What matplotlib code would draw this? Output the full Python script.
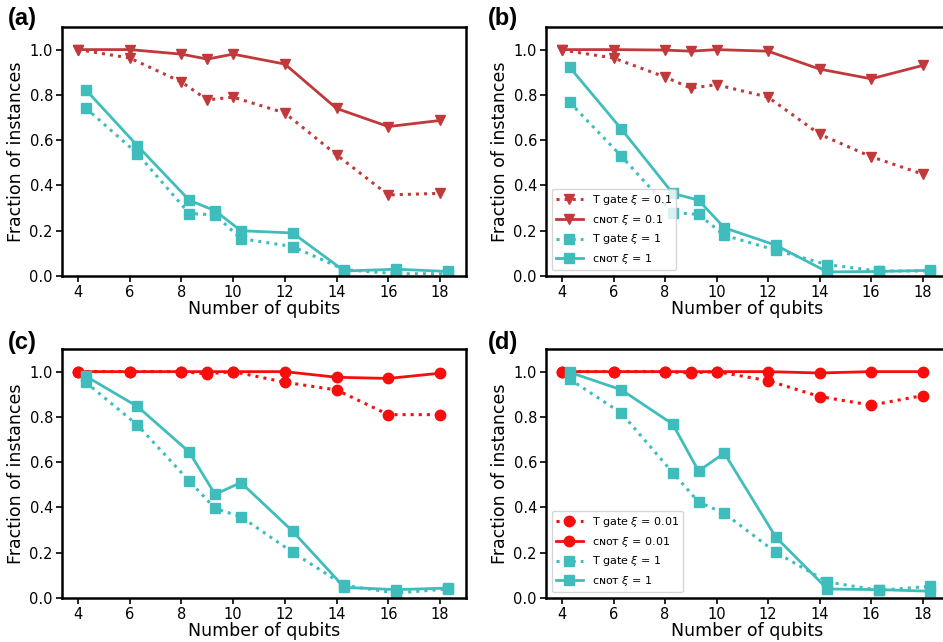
import matplotlib
matplotlib.use("Agg")
import matplotlib.pyplot as plt

# x positions (squares are shifted a bit to the right in the original)
qubits = [4, 6, 8, 9, 10, 12, 14, 16, 18]
qubits_shift = [4.3, 6.3, 8.3, 9.3, 10.3, 12.3, 14.3, 16.3, 18.3]

# (a)
a_tgate_01 = [1.0, 0.963, 0.857, 0.778, 0.79, 0.72, 0.535, 0.358, 0.365]
a_cnot_01 = [1.0, 1.0, 0.98, 0.958, 0.98, 0.936, 0.74, 0.66, 0.687]
a_tgate_1 = [0.742, 0.54, 0.276, 0.27, 0.165, 0.13, 0.028, 0.01, 0.01]
a_cnot_1 = [0.823, 0.575, 0.335, 0.288, 0.2, 0.19, 0.022, 0.03, 0.02]

# (b)
b_tgate_01 = [0.998, 0.963, 0.879, 0.83, 0.845, 0.79, 0.626, 0.527, 0.45]
b_cnot_01 = [1.0, 1.0, 0.998, 0.993, 1.0, 0.993, 0.914, 0.871, 0.93]
b_tgate_1 = [0.767, 0.53, 0.28, 0.272, 0.18, 0.114, 0.05, 0.022, 0.022]
b_cnot_1 = [0.922, 0.65, 0.365, 0.335, 0.213, 0.136, 0.018, 0.02, 0.025]

# (c)
c_tgate_001 = [1.0, 1.0, 1.0, 0.99, 1.0, 0.953, 0.919, 0.81, 0.81]
c_cnot_001 = [1.0, 1.0, 1.0, 1.0, 1.0, 1.0, 0.975, 0.97, 0.993]
c_tgate_1 = [0.953, 0.764, 0.517, 0.396, 0.359, 0.202, 0.056, 0.022, 0.04]
c_cnot_1 = [0.98, 0.846, 0.645, 0.458, 0.51, 0.295, 0.047, 0.037, 0.044]

# (d)
d_tgate_001 = [1.0, 1.0, 1.0, 0.994, 1.0, 0.96, 0.89, 0.852, 0.894]
d_cnot_001 = [1.0, 1.0, 1.0, 1.0, 1.0, 1.0, 0.994, 1.0, 1.0]
d_tgate_1 = [0.967, 0.817, 0.554, 0.424, 0.374, 0.202, 0.071, 0.034, 0.052]
d_cnot_1 = [0.997, 0.92, 0.768, 0.561, 0.64, 0.269, 0.04, 0.037, 0.03]

DARKRED = "#c0393b"
TEAL = "#3fbdbd"
RED = "#f80d0d"
CNOT = "\u1d04\u0274\u1d0f\u1d1b"  # small caps cnot


def draw_panel(ax, tg_hi, cn_hi, tg_1, cn_1, col, mk, xi, legend):
    ax.plot(qubits, tg_hi, ls=":", lw=2.2, color=col, marker=mk, ms=7.5,
            label=f"T gate $\\xi$ = {xi}")
    ax.plot(qubits, cn_hi, ls="-", lw=2, color=col, marker=mk, ms=7.5,
            label=f"{CNOT} $\\xi$ = {xi}")
    ax.plot(qubits_shift, tg_1, ls=":", lw=2.2, color=TEAL, marker="s", ms=7.5,
            label="T gate $\\xi$ = 1")
    ax.plot(qubits_shift, cn_1, ls="-", lw=2, color=TEAL, marker="s", ms=7.5,
            label=f"{CNOT} $\\xi$ = 1")
    ax.set_xlim(3.38, 19.0)
    ax.set_ylim(0, 1.1)
    ax.set_xticks(range(4, 19, 2))
    ax.set_yticks([0, 0.2, 0.4, 0.6, 0.8, 1.0])
    ax.tick_params(labelsize=10.5, width=1.2, length=4, pad=2.5)
    for s in ax.spines.values():
        s.set_linewidth(1.8)
    ax.set_xlabel("Number of qubits", fontsize=12.5, labelpad=0)
    ax.set_ylabel("Fraction of instances", fontsize=12.5, labelpad=3)
    if legend:
        ax.legend(loc="lower left", fontsize=8, handlelength=2.4,
                  borderaxespad=0.5)


def main():
    fig = plt.figure(figsize=(9.43, 6.42), dpi=100)
    ax_a = fig.add_axes([0.0657, 0.5701, 0.4284, 0.3879])
    ax_b = fig.add_axes([0.579, 0.5701, 0.4268, 0.3879])
    ax_c = fig.add_axes([0.0657, 0.0685, 0.4284, 0.3879])
    ax_d = fig.add_axes([0.579, 0.0685, 0.4268, 0.3879])

    draw_panel(ax_a, a_tgate_01, a_cnot_01, a_tgate_1, a_cnot_1,
               DARKRED, "v", "0.1", False)
    draw_panel(ax_b, b_tgate_01, b_cnot_01, b_tgate_1, b_cnot_1,
               DARKRED, "v", "0.1", True)
    draw_panel(ax_c, c_tgate_001, c_cnot_001, c_tgate_1, c_cnot_1,
               RED, "o", "0.01", False)
    draw_panel(ax_d, d_tgate_001, d_cnot_001, d_tgate_1, d_cnot_1,
               RED, "o", "0.01", True)

    # panel letters
    for lab, x, y in [("(a)", 8, 18), ("(b)", 488, 18),
                      ("(c)", 8, 343), ("(d)", 488, 343)]:
        fig.text(x / 943, 1 - y / 642, lab, fontsize=17, fontweight="bold",
                 family="Liberation Sans", va="center", ha="left")

    fig.savefig("out.png", dpi=100)


if __name__ == "__main__":
    main()
